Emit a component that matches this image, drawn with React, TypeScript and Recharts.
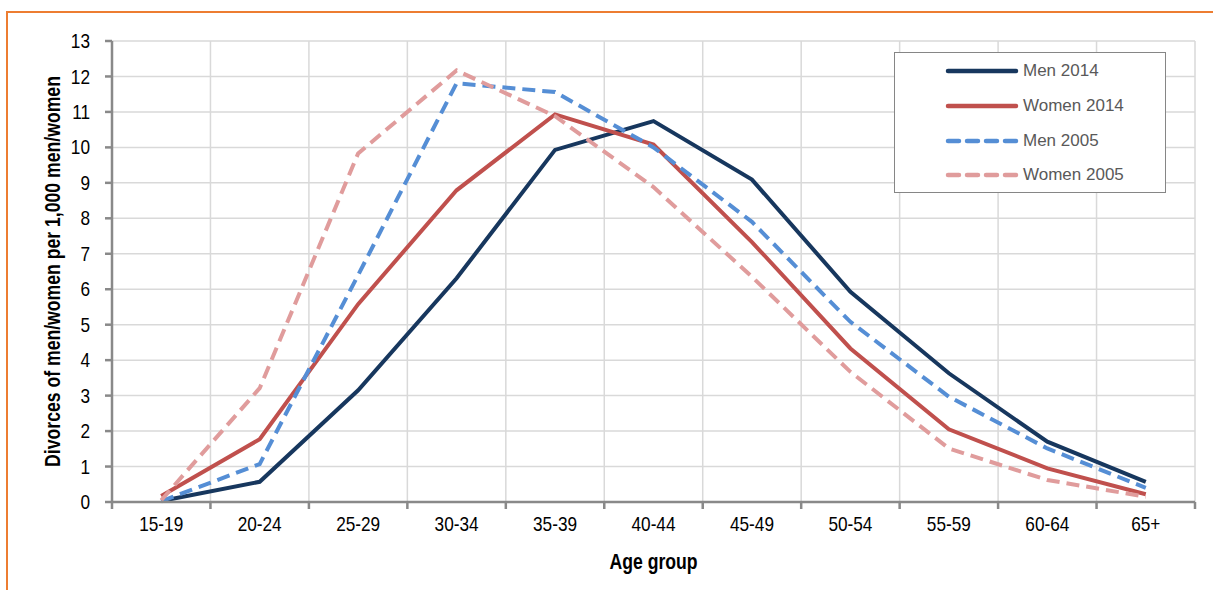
import React from 'react'
import { LineChart, Line, XAxis, YAxis, CartesianGrid, Legend } from 'recharts'

const AGE_GROUPS = ['15-19', '20-24', '25-29', '30-34', '35-39', '40-44', '45-49', '50-54', '55-59', '60-64', '65+']
const MEN_2014 = [0.03, 0.57, 3.15, 6.31, 9.93, 10.74, 9.09, 5.93, 3.63, 1.7, 0.57]
const WOMEN_2014 = [0.17, 1.77, 5.58, 8.79, 10.93, 10.08, 7.33, 4.33, 2.05, 0.95, 0.22]
const MEN_2005 = [0.02, 1.07, 6.4, 11.81, 11.56, 10.0, 7.9, 5.08, 2.97, 1.51, 0.4]
const WOMEN_2005 = [0.05, 3.21, 9.83, 12.17, 10.88, 8.88, 6.35, 3.67, 1.51, 0.62, 0.15]
const Y_TICKS = [0, 1, 2, 3, 4, 5, 6, 7, 8, 9, 10, 11, 12, 13]

const SERIES = [
  { key: 'men2014', name: 'Men 2014', color: '#17375E', dash: undefined },
  { key: 'women2014', name: 'Women 2014', color: '#C0504D', dash: undefined },
  { key: 'men2005', name: 'Men 2005', color: '#558ED5', dash: '13 7' },
  { key: 'women2005', name: 'Women 2005', color: '#E09C9C', dash: '13 7' },
]

const W = 1213
const H = 590
const MARGIN = { top: 41, right: 18, bottom: 28, left: 0 }
const Y_AXIS_W = 112
const X_AXIS_H = 60
const PLOT_W = W - MARGIN.right - Y_AXIS_W
const HALF_BAND = PLOT_W / AGE_GROUPS.length / 2

// no Arial Narrow in the sandbox: squeeze Liberation Sans horizontally instead
const SANS = '"Liberation Sans", Arial, sans-serif'
const SQUEEZE = 0.82
const AXIS_GRAY = '#898989'

const data = AGE_GROUPS.map((g, i) => ({
  group: g,
  men2014: MEN_2014[i],
  women2014: WOMEN_2014[i],
  men2005: MEN_2005[i],
  women2005: WOMEN_2005[i],
}))

function NarrowText({ x, y, size, bold, anchor, rotate, children }: any) {
  const rot = rotate ? ` rotate(${rotate})` : ''
  return (
    <text
      transform={`translate(${x},${y})${rot} scale(${SQUEEZE},1)`}
      textAnchor={anchor || 'middle'}
      dominantBaseline="central"
      fontFamily={SANS}
      fontWeight={bold ? 'bold' : 'normal'}
      fontSize={size}
      fill="#000"
    >
      {children}
    </text>
  )
}

function XTick(props: any) {
  const { x, y, payload, index } = props
  const last = index === AGE_GROUPS.length - 1
  return (
    <g>
      <line x1={x - HALF_BAND} x2={x - HALF_BAND} y1={y - 8} y2={y - 1} stroke={AXIS_GRAY} strokeWidth={2.5} />
      {last && <line x1={x + HALF_BAND} x2={x + HALF_BAND} y1={y - 8} y2={y - 1} stroke={AXIS_GRAY} strokeWidth={2.5} />}
      <NarrowText x={x} y={y + 14} size={21}>
        {payload.value}
      </NarrowText>
    </g>
  )
}

function YTick(props: any) {
  const { x, y, payload } = props
  return (
    <NarrowText x={x} y={y} size={21} anchor="end">
      {payload.value}
    </NarrowText>
  )
}

function LegendBox() {
  return (
    <div
      style={{
        width: 272,
        height: 141,
        boxSizing: 'border-box',
        border: '1.5px solid #868686',
        background: '#fff',
        paddingTop: 1,
      }}
    >
      {SERIES.map((s) => (
        <div key={s.key} style={{ display: 'flex', alignItems: 'center', height: 34.7 }}>
          <svg width={128} height={10} style={{ flex: 'none' }}>
            <line
              x1={53}
              x2={121}
              y1={5}
              y2={5}
              stroke={s.color}
              strokeWidth={4.5}
              strokeDasharray={s.dash ? '11 8' : undefined}
              strokeLinecap="round"
            />
          </svg>
          <span style={{ fontFamily: SANS, fontSize: 17, color: '#595959' }}>{s.name}</span>
        </div>
      ))}
    </div>
  )
}

export default function App() {
  return (
    <div style={{ position: 'absolute', left: 0, top: 0, width: W, height: H, background: '#fff', overflow: 'hidden' }}>
      <div style={{ position: 'absolute', left: 6, top: 11, right: 0, height: 2, background: '#ED7D31' }} />
      <div style={{ position: 'absolute', left: 6, top: 11, bottom: 0, width: 2, background: '#ED7D31' }} />
      <LineChart width={W} height={H} data={data} margin={MARGIN} style={{ position: 'absolute', left: 0, top: 0 }}>
        <CartesianGrid
          stroke="#D9D9D9"
          strokeWidth={1.5}
          verticalCoordinatesGenerator={({ offset }: any) =>
            AGE_GROUPS.map((_, i) => offset.left + (i + 1) * (offset.width / AGE_GROUPS.length))
          }
        />
        <XAxis
          dataKey="group"
          height={X_AXIS_H}
          padding={{ left: HALF_BAND, right: HALF_BAND }}
          interval={0}
          axisLine={{ stroke: AXIS_GRAY, strokeWidth: 2.5 }}
          tickLine={false}
          tick={<XTick />}
          label={({ viewBox }: any) => (
            <NarrowText x={viewBox.x + viewBox.width / 2} y={viewBox.y + 59} size={21.5} bold>
              Age group
            </NarrowText>
          )}
        />
        <YAxis
          width={Y_AXIS_W}
          domain={[0, 13]}
          ticks={Y_TICKS}
          interval={0}
          axisLine={{ stroke: AXIS_GRAY, strokeWidth: 2.5 }}
          tickLine={{ stroke: AXIS_GRAY, strokeWidth: 2.5 }}
          tickSize={7}
          tickMargin={15}
          tick={<YTick />}
          label={({ viewBox }: any) => (
            <NarrowText x={52} y={viewBox.y + viewBox.height / 2} size={21.5} bold rotate={-90}>
              Divorces of men/women per 1,000 men/women
            </NarrowText>
          )}
        />
        <Legend
          layout="vertical"
          align="center"
          verticalAlign="middle"
          content={<LegendBox />}
          wrapperStyle={{ left: 894, top: 52, width: 272, height: 141 }}
        />
        {SERIES.map((s) => (
          <Line
            key={s.key}
            type="linear"
            dataKey={s.key}
            name={s.name}
            stroke={s.color}
            strokeWidth={4}
            strokeDasharray={s.dash}
            dot={false}
            activeDot={false}
            isAnimationActive={false}
          />
        ))}
      </LineChart>
    </div>
  )
}
